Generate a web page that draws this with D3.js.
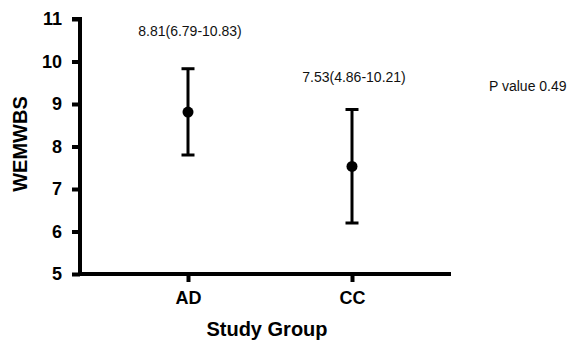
<!DOCTYPE html>
<html>
<head>
<meta charset="utf-8">
<script src="https://cdn.jsdelivr.net/npm/d3@7"></script>
<style>
  body { margin: 0; background: #fff; }
  svg { font-family: "Liberation Sans", Arial, sans-serif; }
  .axis path, .axis line { stroke: #000; stroke-width: 4; }
  .axis text { font-size: 18px; font-weight: bold; fill: #000; }
</style>
</head>
<body>
<svg class="chart" width="571" height="342"></svg>
<script>
const groups = ["AD", "CC"];
const means = [8.81, 7.53];
const barLow = [7.8, 6.2];
const barHigh = [9.83, 8.87];
const labels = ["8.81(6.79-10.83)", "7.53(4.86-10.21)"];
const yTicks = [5, 6, 7, 8, 9, 10, 11];
const pText = "P value 0.49";

const svg = d3.select("svg.chart");

const x = d3.scalePoint().domain(groups).range([188, 352]);
const y = d3.scaleLinear().domain([5, 11]).range([274, 19]);

svg
  .append("g")
  .attr("class", "axis")
  .attr("transform", "translate(80,0)")
  .call(d3.axisLeft(y).tickValues(yTicks).tickFormat(d3.format("d")).tickSize(8).tickPadding(10))
  .call((g) => g.select(".domain").attr("d", "M-8," + y(11) + "H0V" + (y(5) + 2)));

svg
  .append("g")
  .attr("class", "axis")
  .attr("transform", "translate(0,274)")
  .call(d3.axisBottom(x).tickSize(8).tickPadding(9))
  .call((g) => g.select(".domain").attr("d", "M78,0H451"));

const pts = svg
  .selectAll("g.pt")
  .data(groups)
  .enter()
  .append("g")
  .attr("class", "pt");

pts
  .append("line")
  .attr("x1", (d) => x(d))
  .attr("x2", (d) => x(d))
  .attr("y1", (d, i) => y(barLow[i]))
  .attr("y2", (d, i) => y(barHigh[i]))
  .attr("stroke", "#000")
  .attr("stroke-width", 3);

pts
  .selectAll("line.cap")
  .data((d, i) => [
    { g: d, v: barLow[i] },
    { g: d, v: barHigh[i] },
  ])
  .enter()
  .append("line")
  .attr("class", "cap")
  .attr("x1", (d) => x(d.g) - 6.5)
  .attr("x2", (d) => x(d.g) + 6.5)
  .attr("y1", (d) => y(d.v))
  .attr("y2", (d) => y(d.v))
  .attr("stroke", "#000")
  .attr("stroke-width", 3);

pts
  .append("circle")
  .attr("cx", (d) => x(d))
  .attr("cy", (d, i) => y(means[i]))
  .attr("r", 5.5)
  .attr("fill", "#000");

pts
  .append("text")
  .attr("x", (d) => x(d) + 2)
  .attr("y", (d, i) => (i === 0 ? 36 : 82))
  .attr("text-anchor", "middle")
  .attr("font-size", "14px")
  .attr("fill", "#111")
  .text((d, i) => labels[i]);

svg
  .append("text")
  .attr("x", 489)
  .attr("y", 91)
  .attr("font-size", "14px")
  .attr("fill", "#111")
  .text(pText);

svg
  .append("text")
  .attr("transform", "translate(27,144) rotate(-90)")
  .attr("text-anchor", "middle")
  .attr("font-size", "20px")
  .attr("font-weight", "bold")
  .text("WEMWBS");

svg
  .append("text")
  .attr("x", 267)
  .attr("y", 336)
  .attr("text-anchor", "middle")
  .attr("font-size", "20px")
  .attr("font-weight", "bold")
  .text("Study Group");
</script>
</body>
</html>
